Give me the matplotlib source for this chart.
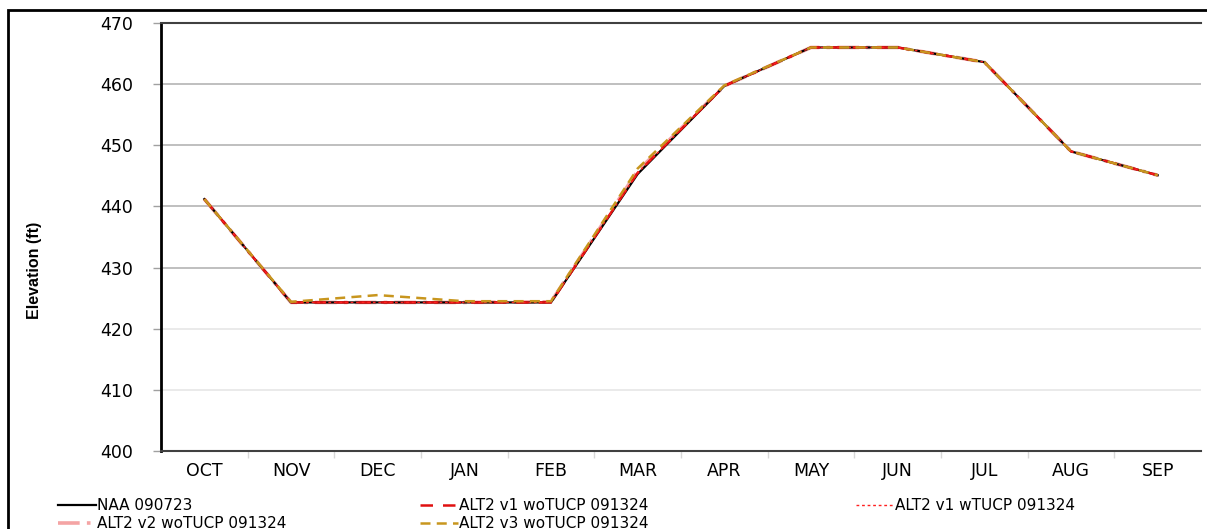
import matplotlib
matplotlib.use("Agg")
import matplotlib.pyplot as plt
from matplotlib.patches import Rectangle

plt.rcParams['font.family'] = ['DejaVu Sans']

# months of the water year
months = ["OCT", "NOV", "DEC", "JAN", "FEB", "MAR", "APR", "MAY", "JUN", "JUL", "AUG", "SEP"]

# end-of-month elevation (ft) per run
naa_090723 = [441.2, 424.3, 424.3, 424.3, 424.3, 445.3, 459.7, 466.0, 466.0, 463.6, 449.0, 445.1]
alt2_v1_wo = [441.2, 424.3, 424.3, 424.3, 424.3, 445.5, 459.7, 466.0, 466.0, 463.6, 449.0, 445.1]
alt2_v1_w = [441.2, 424.3, 424.3, 424.3, 424.3, 445.5, 459.7, 466.0, 466.0, 463.6, 449.0, 445.1]
alt2_v2_wo = [441.2, 424.3, 424.3, 424.3, 424.4, 445.8, 459.7, 466.0, 466.0, 463.6, 449.0, 445.1]
alt2_v3_wo = [441.2, 424.4, 425.5, 424.5, 424.5, 446.2, 459.8, 466.0, 466.0, 463.6, 449.0, 445.1]

y_ticks = [400, 410, 420, 430, 440, 450, 460, 470]

fig = plt.figure(figsize=(12.07, 5.29), dpi=100)
ax = fig.add_axes([161/1207, 1 - 451/529, (1201 - 161)/1207, (451 - 23)/529])

x = list(range(len(months)))
h1, = ax.plot(x, naa_090723, color="black", lw=1.6, label="NAA 090723", zorder=3)
h2, = ax.plot(x, alt2_v1_wo, color="#e01010", lw=1.8, dashes=(5, 4), label="ALT2 v1 woTUCP 091324", zorder=4)
h3, = ax.plot(x, alt2_v1_w, color="#ff2020", lw=1.0, dashes=(2, 2), label="ALT2 v1 wTUCP 091324", zorder=5)
h4, = ax.plot(x, alt2_v2_wo, color="#f4a4a4", lw=2.6, dashes=(6, 2, 1, 2), label="ALT2 v2 woTUCP 091324", zorder=2)
h5, = ax.plot(x, alt2_v3_wo, color="#c8961e", lw=1.8, dashes=(4, 2.5), label="ALT2 v3 woTUCP 091324", zorder=6)

ax.set_xlim(-0.5, 11.5)
ax.set_ylim(400, 470)
ax.set_xticks(x)
ax.set_xticklabels(months, fontsize=12.5)
ax.set_xticks([i - 0.5 for i in range(1, 12)], minor=True)
ax.tick_params(axis="x", which="major", length=0, pad=8)
ax.tick_params(axis="x", which="minor", length=5, color="#d8d8d8", width=1)
ax.set_yticks(y_ticks)
ax.set_yticklabels([str(v) for v in y_ticks], fontsize=12.5)
ax.tick_params(axis="y", length=6, color="#a0a0a0", width=1, pad=14)

# horizontal gridlines, lower ones fainter
for v in y_ticks[1:]:
    c = "#e6e6e6" if v <= 420 else "#b4b4b4"
    ax.axhline(v, color=c, lw=1.2, zorder=0)

ax.set_ylabel("Elevation (ft)", fontsize=11.5, fontweight="bold", family="Liberation Sans")
ax.yaxis.set_label_coords(-0.114, 0.423)

ax.spines["left"].set_linewidth(2)
ax.spines["left"].set_color("black")
ax.spines["bottom"].set_color("#404040")
ax.spines["bottom"].set_linewidth(1.5)
ax.spines["top"].set_color("#404040")
ax.spines["top"].set_linewidth(1.5)
ax.spines["right"].set_visible(False)

# legend in three fixed columns; second row runs off the bottom as in the source
cols = [([h1, h4], 58), ([h2, h5], 420), ([h3], 856)]
for hs, px in cols:
    fig.legend(handles=hs, loc="upper left", bbox_to_anchor=(px/1207, 1 - 498/529),
               frameon=False, fontsize=11, handlelength=2.5, handletextpad=0.05,
               labelspacing=0.2, borderpad=0, borderaxespad=0)

# outer chart frame
fig.patches.append(Rectangle((8/1207, -0.05), 1.1, 1 - 10/529 + 0.05, transform=fig.transFigure,
                             fill=False, edgecolor="black", lw=2))

fig.savefig("out.png", dpi=100)
